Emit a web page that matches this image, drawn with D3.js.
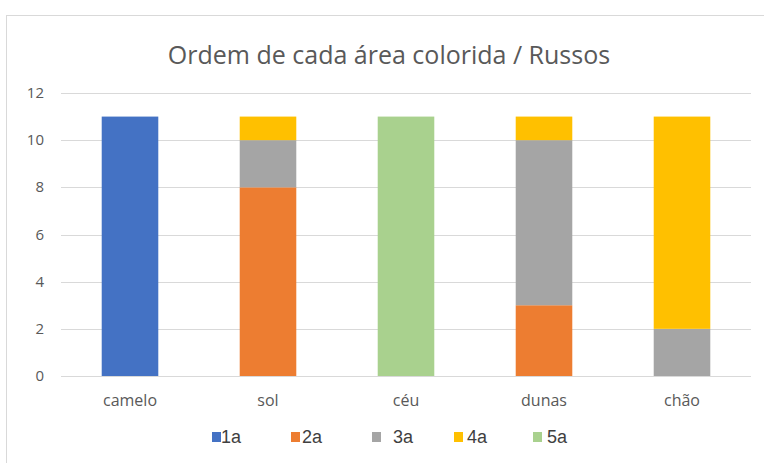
<!DOCTYPE html>
<html lang="pt">
<head>
<meta charset="UTF-8">
<script src="https://cdnjs.cloudflare.com/ajax/libs/d3/7.8.5/d3.min.js"></script>
<style>
    body { margin: 0; background: #fff; }
    text { font-family: "Open Sans", "Noto Sans", sans-serif; fill: #595959; }
    .legend text { font-family: "Liberation Sans", Arial, sans-serif; fill: #404040; }
</style>
</head>
<body>
<svg id="chart" width="764" height="463"></svg>
<script>
    var categories = ["camelo", "sol", "céu", "dunas", "chão"];
    var seriesNames = ["1a", "2a", "3a", "4a", "5a"];
    var colors = ["#4472c4", "#ed7d31", "#a5a5a5", "#ffc000", "#a9d18e"];
    var s1a = [11, 0, 0, 0, 0];
    var s2a = [0, 8, 0, 3, 0];
    var s3a = [0, 2, 0, 7, 2];
    var s4a = [0, 1, 0, 1, 9];
    var s5a = [0, 0, 11, 0, 0];
    var yTicks = [0, 2, 4, 6, 8, 10, 12];

    var rows = categories.map(function (c, i) {
        return {cat: c, "1a": s1a[i], "2a": s2a[i], "3a": s3a[i], "4a": s4a[i], "5a": s5a[i]};
    });

    var svg = d3.select("#chart");

    // chart frame (only top and left edges show in the screenshot)
    svg.append("line").attr("x1", 6).attr("x2", 764).attr("y1", 15.5).attr("y2", 15.5)
        .attr("stroke", "#d9d9d9");
    svg.append("line").attr("x1", 6.5).attr("x2", 6.5).attr("y1", 15).attr("y2", 463)
        .attr("stroke", "#d9d9d9");

    var x = d3.scaleBand().domain(categories).range([61, 751]).paddingInner(0.59).paddingOuter(0.295);
    var y = d3.scaleLinear().domain([0, 12]).range([376, 93]);

    svg.append("text").attr("x", 389).attr("y", 64).attr("text-anchor", "middle")
        .style("font-size", "25px").text("Ordem de cada área colorida / Russos");

    // grid
    svg.append("g").selectAll("line").data(yTicks).join("line")
        .attr("x1", 61).attr("x2", 751)
        .attr("y1", function (d) { return Math.round(y(d)) + 0.5; })
        .attr("y2", function (d) { return Math.round(y(d)) + 0.5; })
        .attr("stroke", "#d9d9d9");

    svg.append("g").selectAll("text").data(yTicks).join("text")
        .attr("x", 44).attr("y", function (d) { return y(d) + 5; })
        .attr("text-anchor", "end").style("font-size", "15px")
        .text(function (d) { return d; });

    var stack = d3.stack().keys(seriesNames);
    var layers = stack(rows);

    svg.append("g").selectAll("g").data(layers).join("g")
        .attr("fill", function (d, i) { return colors[i]; })
        .selectAll("rect").data(function (d) { return d; }).join("rect")
        .attr("x", function (d) { return x(d.data.cat); })
        .attr("width", x.bandwidth())
        .attr("y", function (d) { return y(d[1]); })
        .attr("height", function (d) { return y(d[0]) - y(d[1]); });

    svg.append("g").selectAll("text").data(categories).join("text")
        .attr("x", function (d) { return x(d) + x.bandwidth() / 2; })
        .attr("y", 406).attr("text-anchor", "middle").style("font-size", "16px")
        .text(function (d) { return d; });

    // legend
    var legendX = [212, 291, 372, 454, 533];
    var legendTextX = [221, 302, 393, 467, 547];
    var leg = svg.append("g").attr("class", "legend").selectAll("g").data(seriesNames).join("g");
    leg.append("rect").attr("x", function (d, i) { return legendX[i]; })
        .attr("y", 432).attr("width", 9).attr("height", 10)
        .attr("fill", function (d, i) { return colors[i]; });
    leg.append("text").attr("x", function (d, i) { return legendTextX[i]; })
        .attr("y", 443).style("font-size", "18px")
        .text(function (d) { return d; });
</script>
</body>
</html>
